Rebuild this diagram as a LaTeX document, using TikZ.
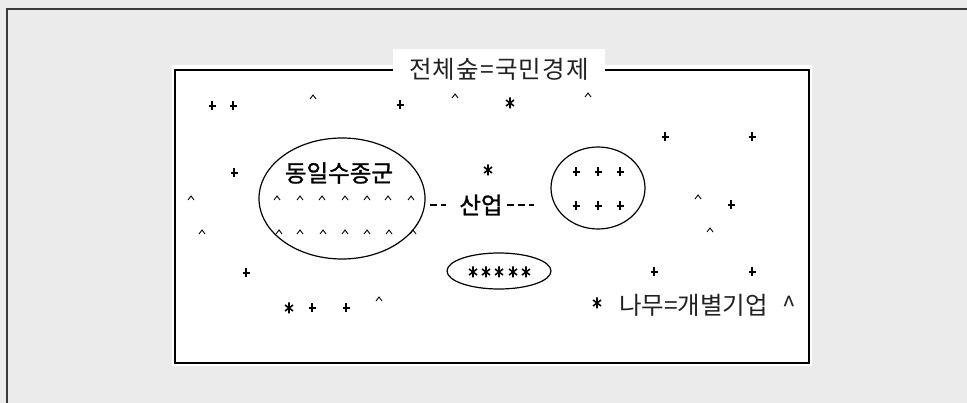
\documentclass[tikz,border=0pt]{standalone}
\usepackage{fontspec}
\usepackage{tikz}
\usetikzlibrary{shapes.geometric, calc}

\newfontfamily\krfont{Noto Sans CJK KR}
\newfontfamily\krbold{Noto Sans CJK KR}[FakeBold=1.2]
\newfontfamily\krwide{Noto Sans CJK KR}[LetterSpace=5]

\definecolor{pagegray}{HTML}{EBEBEB}
\definecolor{framegray}{HTML}{3A3A3A}
\definecolor{inkgray}{HTML}{222222}

\tikzset{
  tplus/.pic={\draw[line width=1.3pt] (-3.5,0) -- (3.5,0) (0,-4.5) -- (0,4.5);},
  tcaret/.pic={\draw[line width=0.9pt] (-3,2) -- (0,-2) -- (3,2);},
  tstar/.pic={\draw[line width=1.6pt] (0,-5.5) -- (0,5.5) (-4,-3) -- (4,3) (-4,3) -- (4,-3);},
}

\begin{document}
\begin{tikzpicture}[x=1pt, y=-1pt,
    grove/.style={draw, ellipse, line width=1.2pt, inner sep=0pt},
    scan/.style={font=\krbold\fontsize{23.5}{26}\selectfont, inner sep=2pt},
    typed/.style={font=\krfont\fontsize{24.5}{28}\selectfont, text=inkgray, inner sep=0pt},
    link/.style={line width=1.4pt, dash pattern=on 7pt off 4pt},
    ]
    \useasboundingbox (0,0) rectangle (967,403);

    % Page and frame
    \fill[pagegray] (0,0) rectangle (967,403);
    \draw[framegray, line width=2pt] (7,403) -- (7,9) -- (967,9);
    \fill[white] (172,65) rectangle (812,366);
    \draw[line width=1.5pt] (175,70) rectangle (809,363);

    % Title
    \node[typed, fill=white, minimum width=212pt, minimum height=40pt,
          font=\krwide\fontsize{24.5}{28}\selectfont] (forest) at (499,69) {전체숲=국민경제};

    % Groups
    \node[grove, minimum width=166pt, minimum height=121pt] (grp) at (342,198.5) {};
    \node[scan] (grplabel) at (339,173) {동일수종군};
    \node[grove, minimum width=94pt, minimum height=82pt] (ring) at (598,188) {};
    \node[grove, minimum width=104pt, minimum height=36pt] (small) at (499,271) {};

    % Industry
    \node[scan] (ind) at (481,205) {산업};
    \draw[link, shorten <=4pt, shorten >=11pt] (grp.east |- ind) -- (ind);
    \draw[link, shorten <=2pt, shorten >=16pt] (ind) -- (ring.west |- ind);

    % Trees
    \foreach \x/\y in {212/106, 233/106, 400/105, 234/173, 665/137, 752/137,
                       731/205, 246/273, 312/308, 346/308, 654/272, 752/272,
                       576/172, 598/172, 620/172, 576/206, 598/206, 620/206}
      \pic at (\x,\y) {tplus};
    \foreach \x/\y in {313/97, 455/96, 588/95, 191/198, 202/232, 698/197,
                       710/230, 379/299}
      \pic at (\x,\y) {tcaret};
    \foreach \x in {277, 300, 322, 345, 367, 388, 411}
      \pic at (\x,198) {tcaret};
    \foreach \x in {279, 300, 323, 345, 367, 389, 413}
      \pic at (\x,232) {tcaret};
    \foreach \x/\y in {510/103, 488/170, 289/308, 597/303}
      \pic at (\x,\y) {tstar};
    \foreach \x in {473, 486, 499, 513, 526}
      \pic at (\x,272) {tstar};

    % Legend
    \node[typed, anchor=west] (tree) at (619,305) {나무=개별기업\hspace{14pt}\textasciicircum};
\end{tikzpicture}
\end{document}
